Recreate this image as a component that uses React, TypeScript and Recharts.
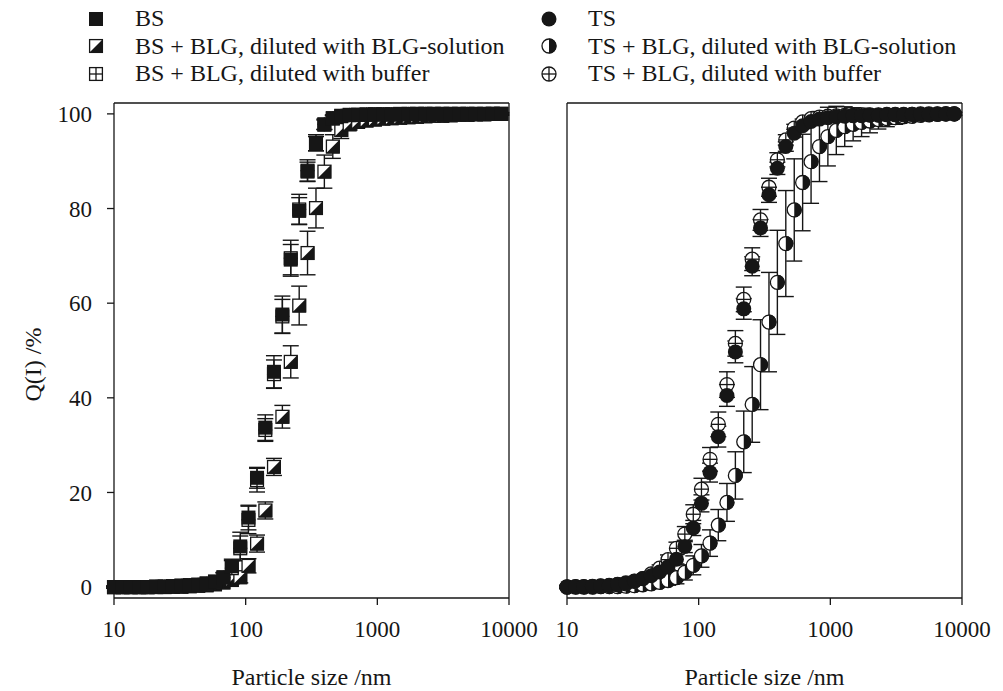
import React from 'react';
import { ScatterChart, Scatter, XAxis, YAxis, ErrorBar, ReferenceLine, Legend } from 'recharts';

// size classes (nm), same bins for all samples
const sizes = [10, 11.6, 13.4, 15.6, 18.0, 20.9, 24.2, 28.0, 32.5, 37.6, 43.6, 50.5, 58.5, 67.8, 78.5, 91.0,
  105, 122, 141, 164, 190, 220, 255, 295, 342, 396, 459, 532, 616, 714, 827, 958,
  1110, 1286, 1490, 1727, 2000, 2318, 2685, 3111, 3605, 4176, 4839, 5606, 6496, 7526, 8720];

// left panel: BS
const bsQ = [0, 0, 0, 0, 0, 0.1, 0.1, 0.2, 0.3, 0.4, 0.5, 0.8, 1.2, 2.1, 4.4, 8.6,
  14.7, 23.1, 33.7, 45.5, 57.6, 69.2, 79.5, 87.8, 93.7, 97.7, 99.0, 99.5, 99.7, 99.8, 99.8, 99.9,
  99.9, 99.9, 99.9, 99.9, 100, 100, 100, 100, 100, 100, 100, 100, 100, 100, 100];
const bsErr = [0.2, 0.2, 0.2, 0.2, 0.2, 0.2, 0.2, 0.2, 0.2, 0.2, 0.2, 0.3, 0.5, 1.0, 1.5, 3.0,
  2.6, 2.2, 2.7, 3.4, 3.9, 3.2, 2.8, 2.0, 1.5, 1.0, 0.6, 0.4, 0.2, 0.2, 0.2, 0.2,
  0.2, 0.2, 0.2, 0.2, 0.2, 0.2, 0.2, 0.2, 0.2, 0.2, 0.2, 0.2, 0.2, 0.2, 0.2];

const bsSolQ = [0, 0, 0, 0, 0, 0, 0, 0.1, 0.1, 0.2, 0.3, 0.4, 0.6, 1.0, 1.5, 2.1,
  4.5, 9.2, 16.2, 25.4, 36.0, 47.6, 59.5, 70.6, 80.1, 87.8, 93.1, 96.6, 97.8, 98.3, 98.6, 98.8,
  99.0, 99.1, 99.2, 99.3, 99.4, 99.5, 99.6, 99.6, 99.7, 99.8, 99.8, 99.9, 99.9, 100, 100];
const bsSolErr = [0.2, 0.2, 0.2, 0.2, 0.2, 0.2, 0.2, 0.2, 0.2, 0.2, 0.2, 0.2, 0.2, 0.4, 0.8, 1.2,
  1.5, 1.8, 1.8, 1.8, 2.4, 3.4, 4.1, 4.6, 4.2, 3.5, 2.5, 1.8, 1.2, 1.0, 0.8, 0.6,
  0.5, 0.4, 0.4, 0.3, 0.3, 0.3, 0.3, 0.3, 0.3, 0.3, 0.3, 0.3, 0.3, 0.3, 0.3];

const bsBufQ = [0, 0, 0, 0, 0, 0.1, 0.1, 0.2, 0.3, 0.4, 0.5, 0.7, 1.1, 2.0, 4.0, 8.2,
  14.2, 22.6, 33.2, 45.0, 57.2, 69.5, 79.8, 88.0, 93.9, 97.8, 99.1, 99.6, 99.8, 99.8, 99.9, 99.9,
  99.9, 99.9, 100, 100, 100, 100, 100, 100, 100, 100, 100, 100, 100, 100, 100];
const bsBufErr = [0.2, 0.2, 0.2, 0.2, 0.2, 0.2, 0.2, 0.2, 0.2, 0.2, 0.2, 0.3, 0.5, 1.0, 1.6, 2.6,
  2.9, 2.5, 2.4, 3.0, 3.6, 3.8, 3.2, 2.3, 1.7, 1.1, 0.7, 0.4, 0.2, 0.2, 0.2, 0.2,
  0.2, 0.2, 0.2, 0.2, 0.2, 0.2, 0.2, 0.2, 0.2, 0.2, 0.2, 0.2, 0.2, 0.2, 0.2];

// right panel: TS
const tsQ = [0.1, 0.1, 0.1, 0.2, 0.3, 0.4, 0.6, 0.9, 1.3, 1.8, 2.4, 3.2, 4.3, 5.9, 8.6, 12.5,
  17.7, 24.2, 31.8, 40.5, 49.7, 58.8, 67.8, 75.9, 82.9, 88.5, 93.1, 95.9, 97.5, 98.4, 98.9, 99.2,
  99.4, 99.5, 99.6, 99.6, 99.7, 99.7, 99.8, 99.8, 99.8, 99.9, 99.9, 99.9, 100, 100, 100];
const tsErr = [0.3, 0.3, 0.3, 0.3, 0.3, 0.3, 0.3, 0.3, 0.3, 0.3, 0.3, 0.5, 0.7, 1.0, 1.3, 1.6,
  1.8, 2.0, 2.2, 2.3, 2.3, 2.2, 2.0, 1.8, 1.6, 1.3, 1.0, 0.8, 0.6, 0.5, 0.4, 0.3,
  0.3, 0.3, 0.3, 0.3, 0.3, 0.3, 0.3, 0.3, 0.3, 0.3, 0.3, 0.3, 0.3, 0.3, 0.3];

const tsSolQ = [0, 0, 0, 0, 0.1, 0.1, 0.1, 0.2, 0.3, 0.5, 0.7, 1.0, 1.4, 2.0, 3.1, 4.6,
  6.6, 9.3, 13.1, 17.9, 23.6, 30.7, 38.6, 47.0, 56.0, 64.4, 72.6, 79.7, 85.5, 89.9, 93.1, 95.2,
  96.5, 97.3, 97.8, 98.2, 98.5, 98.8, 99.0, 99.2, 99.4, 99.5, 99.7, 99.8, 99.9, 100, 100];
const tsSolErr = [0.3, 0.3, 0.3, 0.3, 0.3, 0.3, 0.3, 0.3, 0.3, 0.3, 0.5, 0.7, 1.0, 1.3, 1.6, 2.0,
  2.4, 2.8, 3.3, 4.0, 5.0, 6.5, 8.0, 9.5, 10.5, 11.0, 11.2, 10.8, 10.2, 8.8, 7.4, 6.2,
  5.1, 4.2, 3.5, 3.0, 2.5, 2.0, 1.7, 1.4, 1.2, 1.0, 0.8, 0.6, 0.5, 0.4, 0.3];

const tsBufQ = [0, 0.1, 0.1, 0.1, 0.2, 0.3, 0.5, 0.7, 1.2, 1.8, 2.8, 4.0, 5.8, 8.2, 11.2, 15.4,
  20.7, 27.0, 34.4, 42.8, 51.5, 60.8, 69.3, 77.6, 84.5, 90.3, 94.5, 97.0, 98.3, 99.0, 99.3, 99.5,
  99.6, 99.7, 99.7, 99.8, 99.8, 99.8, 99.9, 99.9, 99.9, 99.9, 100, 100, 100, 100, 100];
const tsBufErr = [0.3, 0.3, 0.3, 0.3, 0.3, 0.3, 0.3, 0.3, 0.3, 0.3, 0.3, 0.7, 1.0, 1.3, 1.6, 2.0,
  2.3, 2.5, 2.6, 2.7, 2.7, 2.6, 2.4, 2.2, 1.9, 1.5, 1.1, 0.8, 0.6, 0.4, 0.3, 0.3,
  0.3, 0.3, 0.3, 0.3, 0.3, 0.3, 0.3, 0.3, 0.3, 0.3, 0.3, 0.3, 0.3, 0.3, 0.3];

const xTicks = [10, 100, 1000, 10000];
const yTicks = [0, 20, 40, 60, 80, 100];
const yMinorTicks = [4, 8, 12, 16, 24, 28, 32, 36, 44, 48, 52, 56, 64, 68, 72, 76, 84, 88, 92, 96];
const xDomain: [number, number] = [10, 10000];
const yDomain: [number, number] = [-2.3, 102.3];

const FONT = '"Liberation Serif", "Times New Roman", serif';
const INK = '#161616';
const H = 7; // marker half size

type Pt = { cx?: number; cy?: number };
type Row = { size: number; q: number; err: number };

const rows = (q: number[], err: number[]): Row[] =>
  sizes.map((size, i) => ({ size, q: q[i], err: err[i] }));

const FilledSquare = ({ cx = 0, cy = 0 }: Pt) => (
  <rect x={cx - H} y={cy - H} width={2 * H} height={2 * H} fill={INK} />
);

const HalfSquare = ({ cx = 0, cy = 0 }: Pt) => (
  <g>
    <rect x={cx - H + 0.6} y={cy - H + 0.6} width={2 * H - 1.2} height={2 * H - 1.2} fill="#fff" stroke={INK} strokeWidth={1.3} />
    <path d={`M${cx - H},${cy + H} L${cx + H},${cy - H} L${cx + H},${cy + H} Z`} fill={INK} />
  </g>
);

const CrossSquare = ({ cx = 0, cy = 0 }: Pt) => (
  <g stroke={INK} strokeWidth={1.3}>
    <rect x={cx - H + 0.6} y={cy - H + 0.6} width={2 * H - 1.2} height={2 * H - 1.2} fill="#fff" />
    <line x1={cx - H} y1={cy} x2={cx + H} y2={cy} />
    <line x1={cx} y1={cy - H} x2={cx} y2={cy + H} />
  </g>
);

const FilledCircle = ({ cx = 0, cy = 0 }: Pt) => <circle cx={cx} cy={cy} r={H + 0.5} fill={INK} />;

const HalfCircle = ({ cx = 0, cy = 0 }: Pt) => (
  <g>
    <circle cx={cx} cy={cy} r={H} fill="#fff" stroke={INK} strokeWidth={1.3} />
    <path d={`M${cx},${cy - H - 0.5} A${H + 0.5},${H + 0.5} 0 0 1 ${cx},${cy + H + 0.5} Z`} fill={INK} />
  </g>
);

const CrossCircle = ({ cx = 0, cy = 0 }: Pt) => (
  <g stroke={INK} strokeWidth={1.3}>
    <circle cx={cx} cy={cy} r={H} fill="#fff" />
    <line x1={cx - H} y1={cy} x2={cx + H} y2={cy} />
    <line x1={cx} y1={cy - H} x2={cx} y2={cy + H} />
  </g>
);

type Series = { name: string; data: Row[]; Shape: (p: Pt) => React.ReactElement; z: number };

const leftSeries: Series[] = [
  { name: 'BS', data: rows(bsQ, bsErr), Shape: FilledSquare, z: 3 },
  { name: 'BS + BLG, diluted with BLG-solution', data: rows(bsSolQ, bsSolErr), Shape: HalfSquare, z: 1 },
  { name: 'BS + BLG, diluted with buffer', data: rows(bsBufQ, bsBufErr), Shape: CrossSquare, z: 2 },
];

const rightSeries: Series[] = [
  { name: 'TS', data: rows(tsQ, tsErr), Shape: FilledCircle, z: 3 },
  { name: 'TS + BLG, diluted with BLG-solution', data: rows(tsSolQ, tsSolErr), Shape: HalfCircle, z: 1 },
  { name: 'TS + BLG, diluted with buffer', data: rows(tsBufQ, tsBufErr), Shape: CrossCircle, z: 2 },
];

function MarkerKey({ items }: { items: Series[] }) {
  return (
    <div style={{ fontFamily: FONT, fontSize: 24, color: INK }}>
      {items.map((s) => (
        <div key={s.name} style={{ display: 'flex', alignItems: 'center', height: 27.5, whiteSpace: 'nowrap' }}>
          <svg width={22} height={22}>
            <s.Shape cx={11} cy={11} />
          </svg>
          <span style={{ marginLeft: 28 }}>{s.name}</span>
        </div>
      ))}
    </div>
  );
}

const YTitle = (props: any) => {
  const vb = props.viewBox || { x: 0, y: 0, height: 0 };
  const x = vb.x + 19;
  const y = vb.y + vb.height / 2 + 14;
  return (
    <text x={x} y={y} transform={`rotate(-90, ${x}, ${y})`} textAnchor="middle" dominantBaseline="central"
      fontSize={24} fontFamily={FONT} fill={INK}>
      Q(I) /%
    </text>
  );
};

function Panel({ left, series, yLabels }: { left: number; series: Series[]; yLabels: boolean }) {
  const drawOrder = [...series].sort((a, b) => a.z - b.z);
  return (
    <div style={{ position: 'absolute', left, top: 0 }}>
      <ScatterChart width={550} height={691} margin={{ top: 103, right: 41, bottom: 33, left: 14 }}>
        <XAxis
          dataKey="size"
          type="number"
          scale="log"
          domain={xDomain}
          ticks={xTicks}
          interval={0}
          height={60}
          tickSize={7}
          tickMargin={16}
          stroke={INK}
          strokeWidth={1.3}
          tick={{ fontSize: 23, fontFamily: FONT, fill: INK }}
          label={{ value: 'Particle size /nm', position: 'bottom', offset: 10, fontSize: 24, fontFamily: FONT, fill: INK }}
        />
        <YAxis
          dataKey="q"
          type="number"
          domain={yDomain}
          ticks={yTicks}
          interval={0}
          width={100}
          tickSize={7}
          tickMargin={15}
          stroke={INK}
          strokeWidth={1.3}
          tick={yLabels ? { fontSize: 23, fontFamily: FONT, fill: INK } : false}
          label={yLabels ? YTitle : undefined}
        />
        {!yLabels && (
          <YAxis
            yAxisId="minor"
            type="number"
            domain={yDomain}
            ticks={yMinorTicks}
            interval={0}
            mirror
            width={20}
            tickSize={3}
            tick={false}
            axisLine={false}
            stroke={INK}
            strokeWidth={1}
          />
        )}
        <ReferenceLine y={yDomain[1]} stroke={INK} strokeWidth={1.3} />
        <ReferenceLine x={xDomain[1]} stroke={INK} strokeWidth={1.3} />
        {drawOrder.map((s) => (
          <Scatter
            key={s.name}
            name={s.name}
            data={s.data}
            isAnimationActive={false}
            shape={(p: any) => <s.Shape cx={p.cx} cy={p.cy} />}
          >
            <ErrorBar dataKey="err" direction="y" width={8} stroke={INK} strokeWidth={1.4} />
          </Scatter>
        ))}
        <Legend
          layout="vertical"
          align="center"
          verticalAlign="middle"
          wrapperStyle={{ top: 5, left: 85, width: 'auto' }}
          content={() => <MarkerKey items={series} />}
        />
      </ScatterChart>
    </div>
  );
}

export default function App() {
  return (
    <div style={{ position: 'absolute', left: 0, top: 0, width: 1003, height: 691, background: '#fff', overflow: 'hidden' }}>
      <Panel left={0} series={leftSeries} yLabels />
      <Panel left={453} series={rightSeries} yLabels={false} />
    </div>
  );
}
